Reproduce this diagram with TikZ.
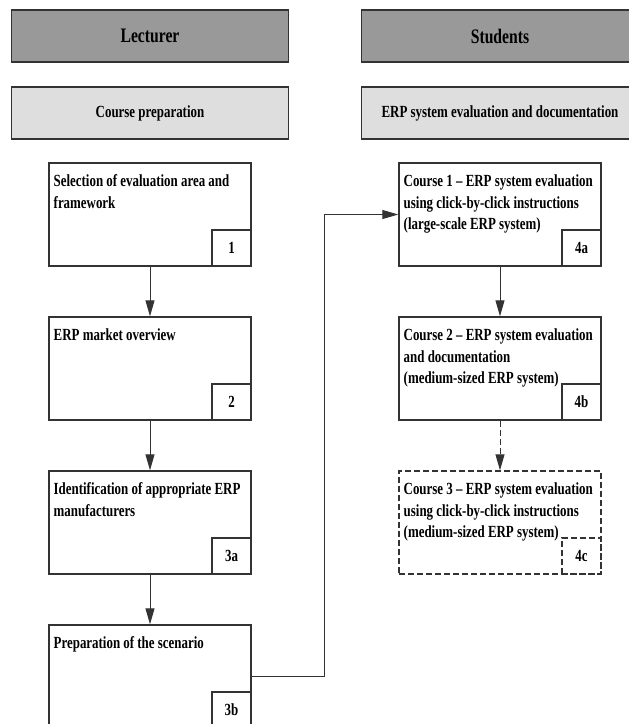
\documentclass[tikz,border=0pt]{standalone}
\usepackage{fontspec}
\setmainfont{Liberation Serif}[FakeStretch=0.76]
\usetikzlibrary{positioning,arrows.meta}
\definecolor{headdark}{gray}{0.6}
\definecolor{headlight}{gray}{0.87}
\definecolor{edgegray}{gray}{0.2}
\tikzset{
  boxfont/.style={font=\bfseries\fontsize{8.5}{10.75}\selectfont},
  headbox/.style={draw=edgegray, line width=0.7pt, boxfont, minimum width=138.5pt, minimum height=26pt, inner sep=0pt},
  rolebox/.style={headbox, fill=headdark, font=\bfseries\fontsize{10.3}{12}\selectfont},
  stepbox/.style={draw=edgegray, line width=0.7pt, minimum width=101pt, minimum height=51.5pt, inner sep=0pt},
  steptext/.style={boxfont, align=left, anchor=north west, inner sep=0pt},
  numbox/.style={draw=edgegray, line width=0.7pt, boxfont, minimum width=19.5pt, minimum height=18pt, inner sep=0pt, anchor=south east},
  optional/.style={dash pattern=on 3pt off 1.5pt},
  flow/.style={draw=edgegray, line width=0.5pt, -{Triangle[length=8pt,width=4.5pt]}},
}
\begin{document}
\begin{tikzpicture}[x=0.5pt,y=-0.5pt]
  \useasboundingbox (0,0) rectangle (628,724);
  %% Headers
  \node[rolebox] (lect) at (150,36) {Lecturer};
  \node[rolebox] (stud) at (500,36) {Students};
  \node[headbox, fill=headlight, below=11.8pt of lect] (prep) {Course preparation};
  \node[headbox, fill=headlight, below=11.8pt of stud] (eval) {ERP system evaluation and documentation};
  %% Lecturer steps
  \node[stepbox, below=11.3pt of prep] (s1) {};
  \node[stepbox, below=24.8pt of s1] (s2) {};
  \node[stepbox, below=24.8pt of s2] (s3a) {};
  \node[stepbox, below=24.8pt of s3a] (s3b) {};
  \node[steptext] (t1) at ([shift={(2.5pt,-4.5pt)}]s1.north west) {\strut Selection of evaluation area and\\framework};
  \node[steptext] (t2) at ([shift={(2.5pt,-4.5pt)}]s2.north west) {\strut ERP market overview};
  \node[steptext] (t3a) at ([shift={(2.5pt,-4.5pt)}]s3a.north west) {\strut Identification of appropriate ERP\\manufacturers};
  \node[steptext] (t3b) at ([shift={(2.5pt,-4.5pt)}]s3b.north west) {\strut Preparation of the scenario};
  \node[numbox] (n1) at (s1.south east) {1};
  \node[numbox] (n2) at (s2.south east) {2};
  \node[numbox] (n3a) at (s3a.south east) {3a};
  \node[numbox] (n3b) at (s3b.south east) {3b};
  %% Student courses
  \node[stepbox, below=11.3pt of eval] (c1) {};
  \node[stepbox, below=24.8pt of c1] (c2) {};
  \node[stepbox, optional, below=24.8pt of c2] (c3) {};
  \node[steptext] (u1) at ([shift={(2.5pt,-4.5pt)}]c1.north west) {\strut Course 1 -- ERP system evaluation\\using click-by-click instructions\\(large-scale ERP system)};
  \node[steptext] (u2) at ([shift={(2.5pt,-4.5pt)}]c2.north west) {\strut Course 2 -- ERP system evaluation\\and documentation\\(medium-sized ERP system)};
  \node[steptext] (u3) at ([shift={(2.5pt,-4.5pt)}]c3.north west) {\strut Course 3 -- ERP system evaluation\\using click-by-click instructions\\(medium-sized ERP system)};
  \node[numbox] (m1) at (c1.south east) {4a};
  \node[numbox] (m2) at (c2.south east) {4b};
  \node[numbox, optional] (m3) at (c3.south east) {4c};
  %% Flow
  \draw[flow] (s1) -- (s2);
  \draw[flow] (s2) -- (s3a);
  \draw[flow] (s3a) -- (s3b);
  \draw[flow] (s3b.east) -- ++(73,0) |- (c1.west);
  \draw[flow] (c1) -- (c2);
  \draw[flow, optional] (c2) -- (c3);
\end{tikzpicture}
\end{document}
